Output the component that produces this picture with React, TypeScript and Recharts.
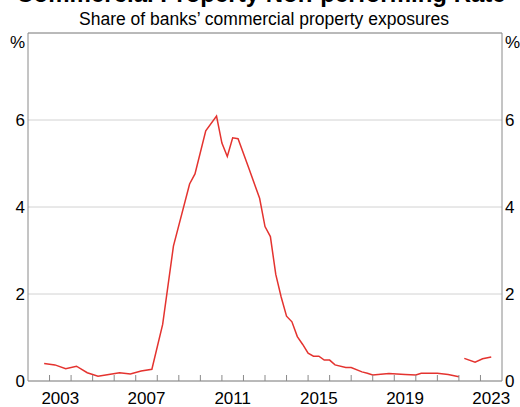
import { CartesianGrid, Line, LineChart, ReferenceLine, XAxis, YAxis } from "recharts";

// Quarter/half-year dates as decimal years, non-performing share (%)
const dates = [
  2002.75, 2003.25, 2003.75, 2004.25, 2004.75, 2005.25, 2005.75, 2006.25,
  2006.75, 2007.25, 2007.75, 2008.25, 2008.75, 2009.5, 2009.75, 2010.25,
  2010.75, 2011.0, 2011.25, 2011.5, 2011.75, 2012.25, 2012.75, 2013.0,
  2013.25, 2013.5, 2013.75, 2014.0, 2014.25, 2014.5, 2014.75, 2015.0,
  2015.25, 2015.5, 2015.75, 2016.0, 2016.25, 2016.75, 2017.0, 2017.5,
  2017.75, 2018.0, 2018.75, 2019.5, 2020.0, 2020.25, 2021.0, 2021.5,
  2022.0, 2022.1, 2022.25, 2022.75, 2023.1, 2023.5,
];
const nplShare: (number | null)[] = [
  0.4, 0.37, 0.28, 0.34, 0.19, 0.11, 0.15, 0.19,
  0.16, 0.23, 0.27, 1.3, 3.1, 4.53, 4.76, 5.75,
  6.09, 5.47, 5.16, 5.59, 5.57, 4.89, 4.2, 3.55,
  3.32, 2.45, 1.93, 1.49, 1.36, 1.02, 0.84, 0.64,
  0.57, 0.57, 0.48, 0.48, 0.37, 0.31, 0.31, 0.21,
  0.18, 0.14, 0.17, 0.15, 0.14, 0.18, 0.18, 0.15,
  0.1, null, 0.52, 0.43, 0.51, 0.55,
];

const yearTicks = [
  2003, 2004, 2005, 2006, 2007, 2008, 2009, 2010, 2011, 2012, 2013,
  2014, 2015, 2016, 2017, 2018, 2019, 2020, 2021, 2022, 2023,
];
const labelYears = [2003, 2007, 2011, 2015, 2019, 2023];
const yTicks = [0, 2, 4, 6, 8];

const rows = dates.map((date, i) => ({ date, value: nplShare[i] }));
// year-start ticks draw marks, mid-year ticks carry the labels
const xTicks = [...yearTicks, ...labelYears.map((y) => y + 0.5)].sort((a, b) => a - b);

const FONT = "'Liberation Sans', Arial, sans-serif";
const FRAME = "#8a8a8a";
const GRID = "#d2d2d2";
const RED = "#e4332f";

function YearTick(props: any) {
  const { x, y, payload } = props;
  const v = payload.value as number;
  if (Number.isInteger(v)) {
    return <line x1={x} x2={x} y1={y} y2={y - 6} stroke={FRAME} strokeWidth={1} />;
  }
  return (
    <text x={x} y={y + 23} textAnchor="middle" fontSize={17} fontFamily={FONT} fill="#000">
      {Math.floor(v)}
    </text>
  );
}

function PctTick(props: any) {
  const { x, y, payload, anchor } = props;
  const v = payload.value as number;
  const top = v === 8;
  return (
    <text
      x={x}
      y={top ? y + 9 : y}
      dy="0.36em"
      textAnchor={anchor}
      fontSize={17}
      fontFamily={FONT}
      fill="#000"
    >
      {top ? "%" : v}
    </text>
  );
}

export default function App() {
  return (
    <div style={{ position: "absolute", left: 0, top: 0, width: 520, height: 407, background: "#fff" }}>
      <LineChart width={520} height={407} data={rows} margin={{ top: 33, right: 0, bottom: 0, left: 0 }}>
        <CartesianGrid yAxisId="left" vertical={false} stroke={GRID} />
        <XAxis
          dataKey="date"
          type="number"
          domain={[2002, 2024]}
          ticks={xTicks}
          interval={0}
          height={26}
          tickSize={0}
          tickMargin={0}
          tick={(p: any) => <YearTick {...p} />}
          axisLine={{ stroke: FRAME }}
          tickLine={false}
        />
        <YAxis
          yAxisId="left"
          domain={[0, 8]}
          ticks={yTicks}
          interval={0}
          width={28}
          tickSize={0}
          tickMargin={3}
          tick={(p: any) => <PctTick {...p} anchor="end" />}
          axisLine={{ stroke: FRAME }}
          tickLine={false}
        />
        <YAxis
          yAxisId="right"
          orientation="right"
          domain={[0, 8]}
          ticks={yTicks}
          interval={0}
          width={18}
          tickSize={0}
          tickMargin={3}
          tick={(p: any) => <PctTick {...p} anchor="start" />}
          axisLine={{ stroke: FRAME }}
          tickLine={false}
        />
        <ReferenceLine yAxisId="left" y={8} stroke={FRAME} />
        {/* invisible twin so the right-hand axis gets its ticks */}
        <Line
          yAxisId="right"
          dataKey="value"
          stroke="none"
          dot={false}
          activeDot={false}
          isAnimationActive={false}
        />
        <Line
          yAxisId="left"
          dataKey="value"
          stroke={RED}
          strokeWidth={1.5}
          dot={false}
          connectNulls={false}
          isAnimationActive={false}
        />
      </LineChart>
      <svg width={520} height={40} style={{ position: "absolute", left: 0, top: 0, pointerEvents: "none" }}>
        <text x={261} y={2} textAnchor="middle" fontSize={24} fontWeight="bold" fontFamily={FONT} fill="#000">
          Commercial Property Non-performing Rate
        </text>
        <text x={264} y={25} textAnchor="middle" fontSize={17.5} fontFamily={FONT} fill="#000">
          Share of banks’ commercial property exposures
        </text>
      </svg>
    </div>
  );
}
